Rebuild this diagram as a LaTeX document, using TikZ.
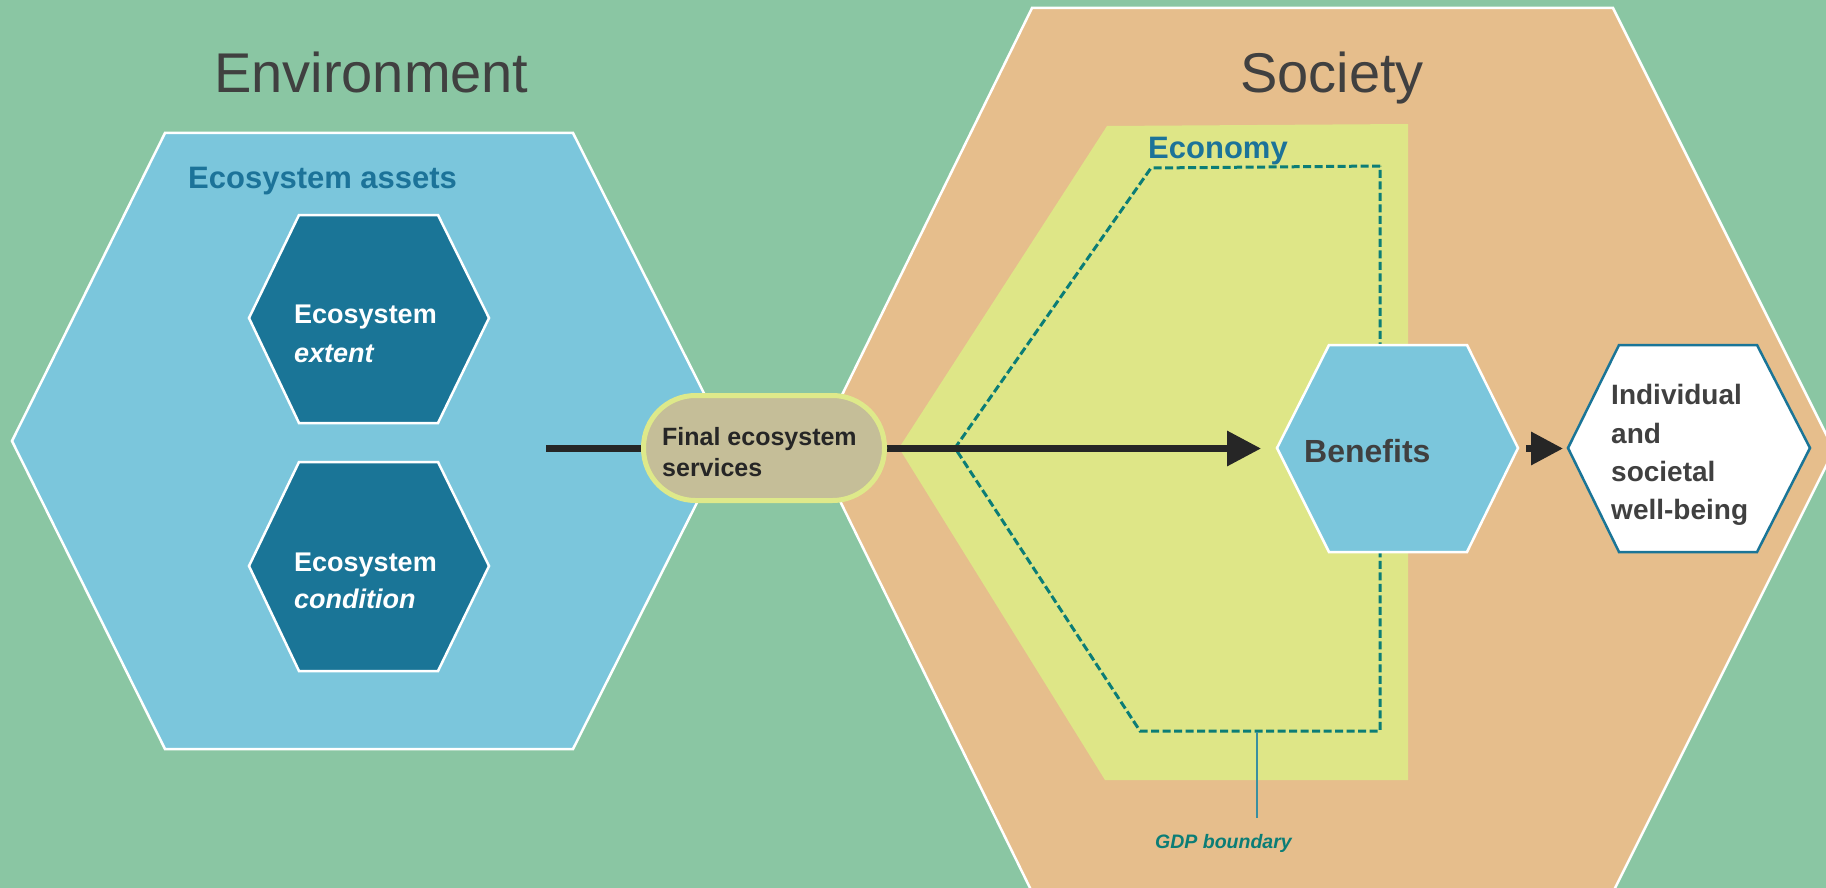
\documentclass[tikz,border=0pt]{standalone}
\usepackage{fontspec}
\setmainfont{Liberation Sans}
\usetikzlibrary{arrows.meta}
\definecolor{bggreen}{HTML}{8AC6A3}
\definecolor{hexblue}{HTML}{7BC6DC}
\definecolor{hexteal}{HTML}{1A7597}
\definecolor{socorange}{HTML}{E6BE8C}
\definecolor{econyellow}{HTML}{DEE687}
\definecolor{pillfill}{HTML}{C5BE98}
\definecolor{pillborder}{HTML}{DEE98A}
\definecolor{gdpteal}{HTML}{0B7D76}
\definecolor{titlegray}{HTML}{404040}
\definecolor{labelblue}{HTML}{1C7399}
\definecolor{darktext}{HTML}{262626}
\definecolor{leader}{HTML}{3A8FA0}
\tikzset{
  bigshape/.style={draw=white, line width=2.5pt, line join=miter},
  smallhex/.style={draw=white, fill=hexteal, line width=2.5pt, line join=miter},
  title/.style={anchor=base west, inner sep=0pt, text=titlegray, font=\fontsize{56}{60}\selectfont},
  sectlabel/.style={anchor=base west, inner sep=0pt, text=labelblue, font=\bfseries\fontsize{31}{36}\selectfont},
  hexline/.style={anchor=base west, inner sep=0pt, text=white, font=\bfseries\fontsize{27}{32}\selectfont},
  pillline/.style={anchor=base west, inner sep=0pt, text=darktext, font=\bfseries\fontsize{25}{30}\selectfont},
  wbline/.style={anchor=base west, inner sep=0pt, text=titlegray, font=\bfseries\fontsize{28}{32}\selectfont},
  flowarrow/.style={draw=darktext, line width=6.5pt, -{Triangle[length=34pt,width=34pt]}},
}
\begin{document}
\begin{tikzpicture}[x=1pt,y=-1pt]
\useasboundingbox (0,0) rectangle (1826,888);
\fill[bggreen] (0,0) rectangle (1826,888);
% Society hexagon
\filldraw[bigshape, fill=socorange] (1032,8) -- (1613,8) -- (1834,450) -- (1613,892) -- (1032,892) -- (815,450) -- cycle;
% Ecosystem assets hexagon
\filldraw[bigshape, fill=hexblue] (165,133) -- (573,133) -- (728,441) -- (573,749) -- (165,749) -- (12,441) -- cycle;
% Economy
\fill[econyellow] (1107,126) -- (1408,124) -- (1408,780) -- (1105,780) -- (899,448) -- cycle;
% GDP boundary
\draw[gdpteal, line width=3pt, dash pattern=on 8pt off 3.5pt] (1380,166) -- (1151,168) -- (955,448) -- (1140,731) -- (1380,731) -- cycle;
\coordinate (gdptop) at (1257,732);
\coordinate (gdpbot) at (1257,818);
\draw[leader, line width=1.5pt] (gdptop) -- (gdpbot);
\node[anchor=base west, inner sep=0pt, text=gdpteal, font=\bfseries\itshape\fontsize{19.5}{22}\selectfont] (gdp) at (1155,848) {GDP boundary};
% small hexagons
\filldraw[smallhex] (299,215) -- (438,215) -- (489,318) -- (438,423) -- (299,423) -- (249,318) -- cycle;
\filldraw[smallhex] (299,462) -- (438,462) -- (489,566) -- (438,671) -- (299,671) -- (249,566) -- cycle;
% benefits hexagon
\filldraw[bigshape, fill=hexblue] (1329,345) -- (1467,345) -- (1518,448) -- (1467,552) -- (1329,552) -- (1277,448) -- cycle;
\coordinate (benW) at (1277,448.5);
\coordinate (benE) at (1518,448.5);
% well-being hexagon
\filldraw[draw=hexteal, fill=white, line width=2.5pt, line join=miter] (1619,345) -- (1757,345) -- (1810,448) -- (1757,552) -- (1619,552) -- (1568,448) -- cycle;
\coordinate (wbW) at (1568,448.5);
% main flow arrow
\coordinate (flowstart) at (546,448.5);
\draw[flowarrow] (flowstart) -- ([xshift=-16pt]benW);
% pill
\node[draw=pillborder, fill=pillfill, line width=5pt, rounded corners=52pt, minimum width=241pt, minimum height=105pt, inner sep=0pt] (fes) at (764,448) {};
\draw[draw=darktext, line width=6.5pt, -{Triangle[length=32pt,width=32pt]}] ([xshift=8pt]benE) -- ([xshift=-5pt]wbW);
% texts
\node[title] (env) at (214,93) {Environment};
\node[title] (soc) at (1240,93) {Society};
\node[sectlabel] (assets) at (188,188) {Ecosystem assets};
\node[sectlabel] (econ) at (1148,159) {Economy};
\node[hexline] (ext1) at (294,323) {Ecosystem};
\node[hexline, font=\bfseries\itshape\fontsize{27}{32}\selectfont] (ext2) at (294,362) {extent};
\node[hexline] (con1) at (294,571) {Ecosystem};
\node[hexline, font=\bfseries\itshape\fontsize{27}{32}\selectfont] (con2) at (294,608) {condition};
\node[pillline] (fes1) at (662,445) {Final ecosystem};
\node[pillline] (fes2) at (662,476) {services};
\node[anchor=base west, inner sep=0pt, text=titlegray, font=\bfseries\fontsize{32}{36}\selectfont] (ben) at (1304,462) {Benefits};
\node[wbline] (wb1) at (1611,404) {Individual};
\node[wbline] (wb2) at (1611,443) {and};
\node[wbline] (wb3) at (1611,481) {societal};
\node[wbline] (wb4) at (1611,519) {well-being};
\end{tikzpicture}
\end{document}
